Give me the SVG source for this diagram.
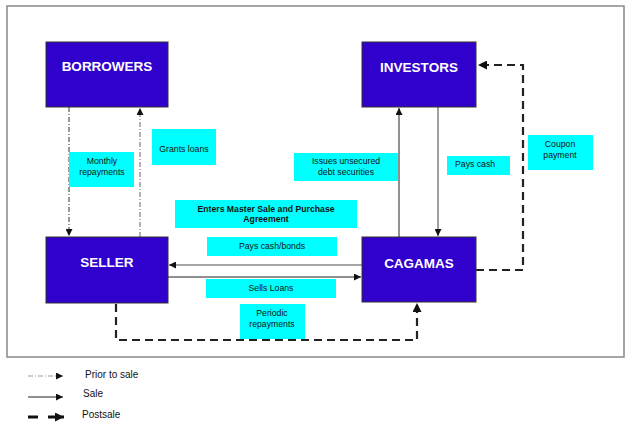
<svg xmlns="http://www.w3.org/2000/svg" width="633" height="425" viewBox="0 0 633 425">
<defs>
<style>
.node{fill:#3000CC;stroke:#333;stroke-width:1}
.title{font-family:"Liberation Sans",Arial,sans-serif;font-weight:bold;font-size:13.5px;fill:#fff;text-anchor:middle}
.lbl{fill:#00FFFF}
.lt{font-family:"Liberation Sans",Arial,sans-serif;font-size:8.7px;fill:#111;text-anchor:middle}
.bt{font-weight:bold}
.leg{font-family:"Liberation Sans",Arial,sans-serif;font-size:10px;fill:#111}
.prior{fill:none;stroke:#333;stroke-width:1;stroke-dasharray:5 2 1 2}
.priorg{fill:none;stroke:#999;stroke-width:1.5;stroke-dasharray:5 2 1 2}
.sale{fill:none;stroke:#222;stroke-width:1}
.saleg{fill:none;stroke:#888;stroke-width:1.6}
.post{fill:none;stroke:#222;stroke-width:2.2;stroke-dasharray:8 5}
</style>
<marker id="a" viewBox="0 0 10 10" refX="10" refY="5" markerWidth="7" markerHeight="7" markerUnits="userSpaceOnUse" orient="auto"><path d="M0,0 L10,5 L0,10 z" fill="#111"/></marker>
<marker id="ab" viewBox="0 0 10 10" refX="10" refY="5" markerWidth="9" markerHeight="9" markerUnits="userSpaceOnUse" orient="auto"><path d="M0,0 L10,5 L0,10 z" fill="#111"/></marker>
</defs>
<rect x="7" y="6" width="617" height="351" fill="#fff" stroke="#888" stroke-width="1.5"/>

<g id="connectors">
<line class="prior" x1="69" y1="107" x2="69" y2="236" marker-end="url(#a)"/>
<line class="priorg" x1="140" y1="237" x2="140" y2="108" marker-end="url(#a)"/>
<line class="sale" x1="399" y1="237" x2="399" y2="108" marker-end="url(#a)"/>
<line class="saleg" x1="438" y1="107" x2="438" y2="236" marker-end="url(#a)"/>
<line class="saleg" x1="362" y1="265" x2="169" y2="265" marker-end="url(#a)"/>
<line class="sale" x1="168" y1="277" x2="361" y2="277" marker-end="url(#a)"/>
<polyline class="post" points="476,270 523,270 523,65 478,65" marker-end="url(#ab)"/>
<polyline class="post" points="116,304 116,340 417,340 417,303" marker-end="url(#ab)"/>
</g>

<g id="borrowers"><rect class="node" x="46" y="42" width="122" height="65"/><text class="title" x="107" y="71">BORROWERS</text></g>
<g id="investors"><rect class="node" x="362" y="42" width="114" height="65"/><text class="title" x="419" y="72">INVESTORS</text></g>
<g id="seller"><rect class="node" x="46" y="237" width="122" height="66"/><text class="title" x="107" y="267">SELLER</text></g>
<g id="cagamas"><rect class="node" x="362" y="237" width="114" height="65"/><text class="title" x="419" y="268">CAGAMAS</text></g>

<g id="label-monthly"><rect class="lbl" x="69" y="152" width="65" height="35"/><text class="lt" x="102" y="164">Monthly</text><text class="lt" x="102" y="175">repayments</text></g>
<g id="label-grants"><rect class="lbl" x="152" y="129" width="64" height="36"/><text class="lt" x="184" y="152">Grants loans</text></g>
<g id="label-issues"><rect class="lbl" x="294" y="153" width="104" height="28"/><text class="lt" x="346" y="164">Issues unsecured</text><text class="lt" x="346" y="175">debt securities</text></g>
<g id="label-payscash"><rect class="lbl" x="447" y="156" width="63" height="19"/><text class="lt" x="455" y="167" text-anchor="start" style="text-anchor:start">Pays cash</text></g>
<g id="label-coupon"><rect class="lbl" x="528" y="135" width="65" height="35"/><text class="lt" x="560" y="147">Coupon</text><text class="lt" x="560" y="158">payment</text></g>
<g id="label-master"><rect class="lbl" x="175" y="200" width="182" height="28"/><text class="lt bt" x="266" y="212">Enters Master  Sale and Purchase</text><text class="lt bt" x="266" y="222">Agreement</text></g>
<g id="label-paysbonds"><rect class="lbl" x="207" y="237" width="130" height="19"/><text class="lt" x="272" y="249">Pays cash/bonds</text></g>
<g id="label-sells"><rect class="lbl" x="206" y="279" width="130" height="19"/><text class="lt" x="271" y="291">Sells Loans</text></g>
<g id="label-periodic"><rect class="lbl" x="240" y="304" width="65" height="35"/><text class="lt" x="272" y="316">Periodic</text><text class="lt" x="272" y="327">repayments</text></g>

<g id="legend">
<line class="priorg" x1="28" y1="376" x2="63" y2="376" marker-end="url(#a)" style="stroke-width:1"/>
<text class="leg" x="85" y="378">Prior to sale</text>
<line class="sale" x1="28" y1="397" x2="63" y2="397" marker-end="url(#a)"/>
<text class="leg" x="83" y="397">Sale</text>
<line x1="28" y1="417" x2="38" y2="417" stroke="#111" stroke-width="3"/>
<line x1="48" y1="417" x2="64" y2="417" stroke="#111" stroke-width="3" marker-end="url(#ab)"/>
<text class="leg" x="82" y="418">Postsale</text>
</g>
</svg>
